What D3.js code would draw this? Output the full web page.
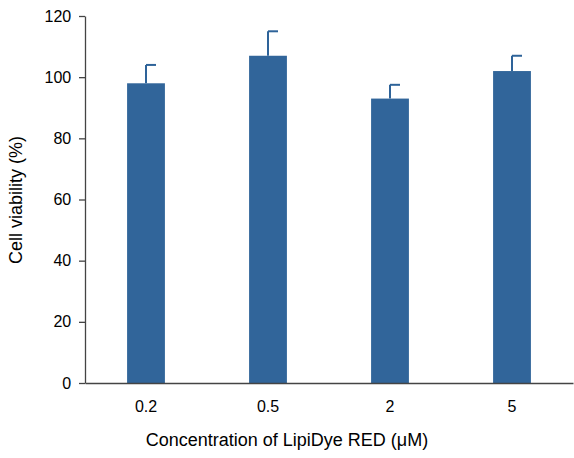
<!DOCTYPE html>
<html>
<head>
<script src="https://cdn.jsdelivr.net/npm/d3@7"></script>
<style>
body { margin: 0; background: #fff; font-family: Arial, "Liberation Sans", sans-serif; }
</style>
</head>
<body>
<svg id="chart" width="574" height="458"></svg>
<script>
var categories = ["0.2", "0.5", "2", "5"];
var values = [98, 107, 93, 102];
var errors = [6, 8, 4.5, 5];
var yTicks = [0, 20, 40, 60, 80, 100, 120];

var svg = d3.select("#chart");
var plotLeft = 85, plotRight = 573, plotTop = 16, plotBottom = 383;

var x = d3.scaleBand().domain(categories).range([plotLeft, plotRight]).paddingInner(0.69).paddingOuter(0.345);
var y = d3.scaleLinear().domain([0, 120]).range([plotBottom, plotTop]);

var g = svg.append("g");

g.selectAll(".err").data(categories).enter().append("line")
    .attr("x1", function(d) { return x(d) + x.bandwidth() / 2; })
    .attr("x2", function(d) { return x(d) + x.bandwidth() / 2; })
    .attr("y1", function(d, i) { return y(values[i]); })
    .attr("y2", function(d, i) { return y(values[i] + errors[i]); })
    .attr("stroke", "#2e6399").attr("stroke-width", 2);
g.selectAll(".cap").data(categories).enter().append("line")
    .attr("x1", function(d) { return x(d) + x.bandwidth() / 2; })
    .attr("x2", function(d) { return x(d) + x.bandwidth() / 2 + 10; })
    .attr("y1", function(d, i) { return y(values[i] + errors[i]); })
    .attr("y2", function(d, i) { return y(values[i] + errors[i]); })
    .attr("stroke", "#2e6399").attr("stroke-width", 2);

g.selectAll(".bar").data(categories).enter().append("rect")
    .attr("x", function(d) { return x(d); })
    .attr("width", x.bandwidth())
    .attr("y", function(d, i) { return y(values[i]); })
    .attr("height", function(d, i) { return y(0) - y(values[i]); })
    .attr("fill", "#31659a");

var yAxis = svg.append("g").attr("transform", "translate(" + plotLeft + ",0)")
    .call(d3.axisLeft(y).tickValues(yTicks).tickSize(6).tickSizeOuter(0));
var xAxis = svg.append("g").attr("transform", "translate(0," + plotBottom + ")")
    .call(d3.axisBottom(x).tickSize(0).tickSizeOuter(0).tickPadding(18));

[yAxis, xAxis].forEach(function(a) {
    a.select(".domain").attr("stroke", "#444").attr("stroke-width", 1.3);
    a.selectAll(".tick line").attr("stroke", "#444").attr("stroke-width", 1.3);
    a.selectAll("text").attr("font-size", 16).attr("fill", "#000").attr("font-family", "Arial, 'Liberation Sans', sans-serif");
});
yAxis.selectAll("text").attr("dx", "-0.3em");

svg.append("text").attr("x", 287).attr("y", 446).attr("text-anchor", "middle")
    .attr("font-size", 18).text("Concentration of LipiDye RED (\u03bcM)");
svg.append("text").attr("transform", "translate(22,200) rotate(-90)").attr("text-anchor", "middle")
    .attr("font-size", 18).text("Cell viability (%)");
</script>
</body>
</html>
